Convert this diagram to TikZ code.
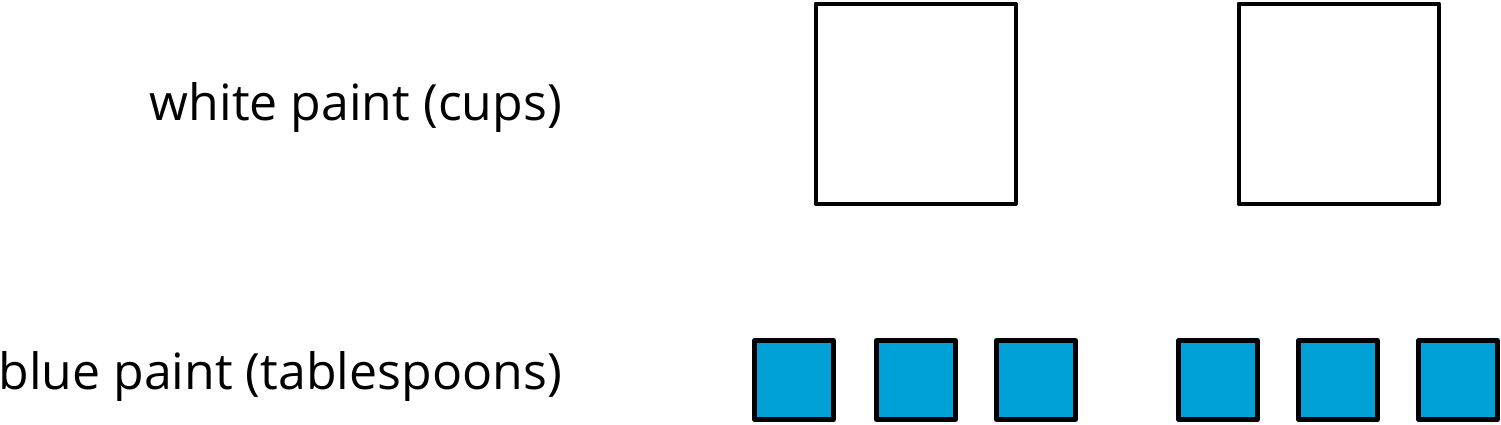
\documentclass[tikz,border=0pt]{standalone}
\usepackage{fontspec}
\setmainfont{Open Sans}
\definecolor{paintblue}{RGB}{0,161,214}
\begin{document}
\begin{tikzpicture}[x=1pt,y=-1pt,line join=round,
	lab/.style={anchor=base east,inner sep=0pt,font=\fontsize{50}{60}\selectfont},
	cup/.style={draw,line width=4pt,minimum size=200pt,inner sep=0pt},
	tbsp/.style={draw,fill=paintblue,line width=4.5pt,minimum size=79pt,inner sep=0pt}]
	\useasboundingbox (0,0) rectangle (1501,424);
	\node[lab] (white) at (562,120) {white paint (cups)};
	\node[lab] (blue) at (562,389) {blue paint (tablespoons)};
	\node[cup] (c1) at (915.5,103.5) {};
	\node[cup] (c2) at (1338.5,103.5) {};
	\foreach \x [count=\i] in {794,916,1036,1218,1338,1458}
		\node[tbsp] (t\i) at (\x,380) {};
\end{tikzpicture}
\end{document}
